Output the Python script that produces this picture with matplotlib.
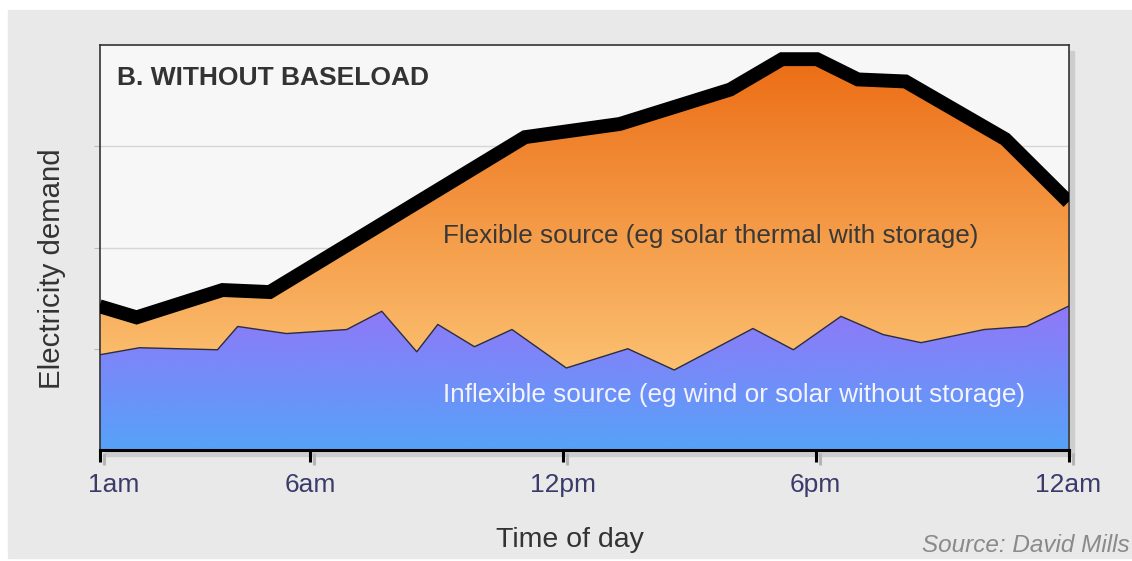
# Electricity demand over a day, "without baseload" scenario:
# inflexible supply at the bottom, flexible supply filling up to demand.
import matplotlib.pyplot as plt
import matplotlib.patheffects as pe
import matplotlib.transforms as mtransforms
from matplotlib.colors import LinearSegmentedColormap, Normalize
from matplotlib.patches import Rectangle
import numpy as np

# total demand (thick black line), hour of day
demand_hours = [1.0, 1.88, 3.92, 5.04, 11.1, 13.35, 15.97, 17.2, 18.03, 19.0, 20.13, 22.5, 24.0]
demand = [1.42, 1.31, 1.58, 1.56, 3.09, 3.22, 3.56, 3.86, 3.86, 3.66, 3.64, 3.07, 2.45]

# inflexible source (wind / solar without storage)
inflex_hours = [1.0, 1.95, 3.8, 4.28, 5.44, 6.87, 7.7, 8.53, 9.03, 9.9, 10.79, 12.08,
                13.54, 14.64, 16.51, 17.47, 18.6, 19.6, 20.5, 22.0, 23.0, 24.0]
inflex = [0.94, 1.01, 0.99, 1.22, 1.15, 1.19, 1.37, 0.97, 1.24, 1.02, 1.19, 0.81,
          1.0, 0.79, 1.20, 0.99, 1.32, 1.14, 1.06, 1.19, 1.22, 1.42]

tick_hours = [1, 6, 12, 18, 24]
tick_labels = ['1am', '6am', '12pm', '6pm', '12am']

plt.rcParams['font.family'] = ['Liberation Sans', 'DejaVu Sans']

W, H = 1132, 561
fig = plt.figure(figsize=(W / 100, H / 100), dpi=100)
fig.patch.set_facecolor('white')

# grey panel + shadow behind the plot box
fig.patches.append(Rectangle((8 / W, 3 / H), (W - 8) / W, 548 / H,
                             transform=fig.transFigure, color='#e9e9e9', zorder=-10))
fig.patches.append(Rectangle((105 / W, 105 / H), 969 / W, 405 / H,
                             transform=fig.transFigure, color='#cdcdcd', zorder=-9))

ax = fig.add_axes([99.5 / W, 111 / H, 969 / W, 405 / H])
ax.set_facecolor('#f7f7f7')

orange = LinearSegmentedColormap.from_list('orange', ['#fbc070', '#ec6c14'])
purple = LinearSegmentedColormap.from_list('purple', ['#56a2f8', '#9078f8'])


def gradient_fill(xs, ys, cmap, vmin, vmax):
    poly, = ax.fill(xs, ys, facecolor='none', edgecolor='none')
    yy = np.linspace(4, 0, 400).reshape(-1, 1)
    im = ax.imshow(yy, cmap=cmap, norm=Normalize(vmin, vmax), aspect='auto',
                   extent=[1, 24, 0, 4], origin='upper', zorder=2)
    im.set_clip_path(poly)


# flexible: between inflexible top and demand
gradient_fill(np.r_[demand_hours, inflex_hours[::-1]], np.r_[demand, inflex[::-1]],
              orange, 0.8, 3.9)
# inflexible: from zero up
gradient_fill(np.r_[inflex_hours, [24, 1]], np.r_[inflex, [0, 0]], purple, 0, 1.4)

ax.plot(inflex_hours, inflex, color='#2c2c3c', lw=1.0, zorder=4)
ax.plot(demand_hours, demand, color='black', lw=10, solid_joinstyle='miter',
        solid_capstyle='butt', zorder=5)

ax.set_xlim(1, 24)
ax.set_ylim(0, 4)
ax.set_yticks([1, 2, 3])
ax.yaxis.grid(True, color='#d6d6d6', lw=1)
ax.set_axisbelow(True)
ax.tick_params(axis='y', length=4, color='#bbbbbb', labelleft=False)

ax.set_xticks(tick_hours)
ax.set_xticklabels(tick_labels)
ax.tick_params(axis='x', length=8.5, width=2.2, color='black', direction='out',
               labelsize=19, labelcolor='#3b3b6b', pad=8)
for tl in ax.get_xticklines():
    tl.set_path_effects([pe.SimpleLineShadow(offset=(3, -2), shadow_color='#b5b5b5', alpha=1),
                         pe.Normal()])
# first label sits a little right of its tick in the original
first = ax.get_xticklabels()[0]
first.set_transform(first.get_transform() +
                    mtransforms.ScaledTranslation(14 / 100, 0, fig.dpi_scale_trans))

for side in ['top', 'right', 'left']:
    ax.spines[side].set_color('#333333')
    ax.spines[side].set_linewidth(1.2)
ax.spines['bottom'].set_color('black')
ax.spines['bottom'].set_linewidth(2.2)

ax.set_xlabel('Time of day', fontsize=20.5, color='#333333')
ax.xaxis.set_label_coords(0.4856, -0.19)
ax.set_ylabel('Electricity demand', fontsize=21.2, color='#333333')
ax.yaxis.set_label_coords(-0.035, 0.447)

ax.text(0.018, 0.918, 'B. WITHOUT BASELOAD', transform=ax.transAxes, fontsize=19,
        fontweight='bold', color='#333333', va='center', ha='left')
ax.text(9.15, 2.11, 'Flexible source (eg solar thermal with storage)', fontsize=18.8,
        color='#383838', va='center', ha='left', zorder=6)
ax.text(9.15, 0.54, 'Inflexible source (eg wind or solar without storage)', fontsize=18.8,
        color='#f4f4ff', va='center', ha='left', zorder=6)

fig.text(1130 / W, 15 / H, 'Source: David Mills', ha='right', va='center', fontsize=17.5,
         style='italic', color='#8a8a8a')

fig.savefig('out.png', dpi=100)
